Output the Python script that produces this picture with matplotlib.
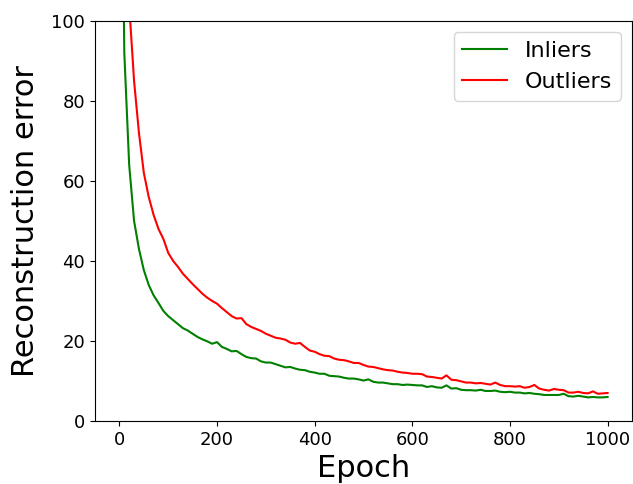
import numpy as np
import matplotlib
matplotlib.use("Agg")
import matplotlib.pyplot as plt

epochs = np.arange(0, 1001, 10)

inliers = [
    200, 92, 64, 50, 43, 37.7, 34, 31.4, 29.5, 27.5,
    26.2, 25.2, 24.2, 23.2, 22.6, 21.8, 21.0, 20.4, 19.9, 19.3,
    19.7, 18.5, 18.0, 17.4, 17.5, 16.7, 16.0, 15.7, 15.6, 14.9,
    14.6, 14.6, 14.2, 13.8, 13.4, 13.5, 13.1, 12.8, 12.7, 12.3,
    12.1, 11.8, 11.8, 11.3, 11.2, 11.1, 10.8, 10.6, 10.6, 10.4,
    10.1, 10.4, 9.8, 9.6, 9.6, 9.4, 9.2, 9.2, 9.0, 9.1,
    9.0, 8.9, 8.9, 8.5, 8.7, 8.4, 8.3, 8.9, 8.1, 8.2,
    7.8, 7.7, 7.7, 7.6, 7.8, 7.5, 7.5, 7.6, 7.3, 7.2,
    7.3, 7.1, 7.1, 6.9, 7.0, 6.8, 6.7, 6.5, 6.5, 6.5,
    6.5, 6.8, 6.2, 6.1, 6.3, 6.1, 5.9, 6.0, 5.9, 5.9,
    6.0,
]

outliers = [
    250, 150, 104, 85, 72, 62, 56, 51.5, 48, 45.5,
    42, 40, 38.5, 36.8, 35.5, 34.2, 33, 31.8, 30.8, 30,
    29.3, 28.2, 27.2, 26.2, 25.6, 25.7, 24.2, 23.5, 23, 22.5,
    21.8, 21.3, 20.8, 20.6, 20.3, 19.6, 19.3, 19.5, 18.5, 17.6,
    17.3, 16.7, 16.3, 16.2, 15.6, 15.3, 15.2, 14.9, 14.5, 14.5,
    14.0, 13.6, 13.5, 13.2, 12.9, 12.7, 12.6, 12.3, 12.1, 12.0,
    11.8, 11.8, 11.7, 11.1, 11.0, 10.8, 10.6, 11.4, 10.3, 10.2,
    9.9, 9.6, 9.6, 9.4, 9.5, 9.3, 9.1, 9.6, 9.0, 8.7,
    8.7, 8.6, 8.7, 8.3, 8.5, 9.0, 8.1, 7.8, 7.6, 8.0,
    7.8, 7.7, 7.1, 7.1, 7.3, 7.0, 6.9, 7.4, 6.8, 6.9,
    7.0,
]

fig, ax = plt.subplots(figsize=(6.33, 4.84), dpi=100)
fig.subplots_adjust(left=95/633, right=632/633, top=1-20.7/484, bottom=1-421/484)

ax.plot(epochs, inliers, color="green", lw=1.5, label="Inliers")
ax.plot(epochs, outliers, color="red", lw=1.5, label="Outliers")

ax.set_ylim(0, 100)
ax.set_xlim(-50, 1050)
ax.set_xticks(np.arange(0, 1001, 200))
ax.set_yticks(np.arange(0, 101, 20))
ax.tick_params(labelsize=13)
ax.set_xlabel("Epoch", fontsize=22, labelpad=4)
ax.set_ylabel("Reconstruction error", fontsize=22, labelpad=8)
ax.legend(loc="upper right", fontsize=16)

fig.savefig("out.png", dpi=100)
